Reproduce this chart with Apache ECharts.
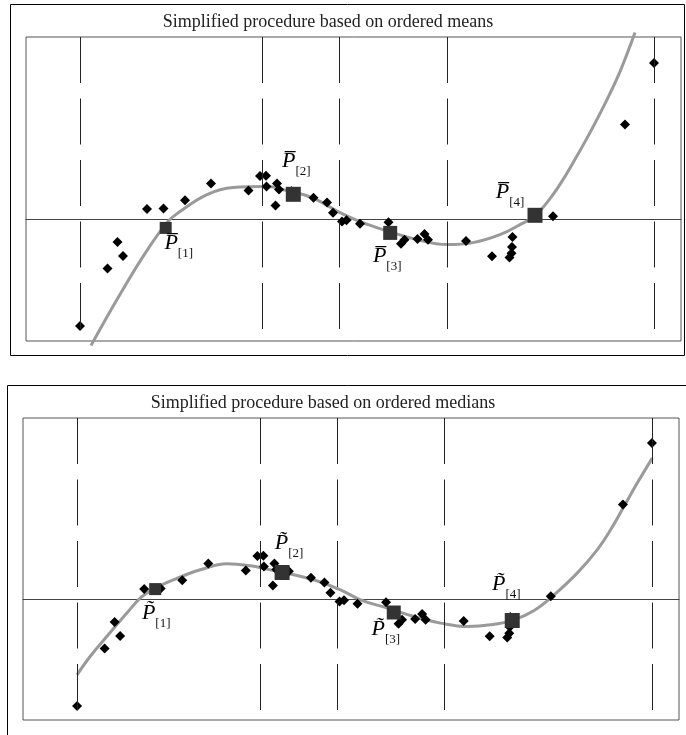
<!DOCTYPE html>
<html>
<head>
<meta charset="utf-8">
<script src="https://cdn.jsdelivr.net/npm/echarts@6/dist/echarts.min.js"></script>
<style>
  html, body { margin: 0; background: #fff; }
  #chart { width: 686px; height: 735px; }
</style>
</head>
<body>
<div id="chart"></div>
<script>
// observed points (same in both panels)
const observations = [
  [5.4, -10.7], [8.15, -4.95], [9.15, -2.3], [9.7, -3.7], [12.1, 1.0],
  [13.75, 1.05], [15.9, 1.87], [18.5, 3.55], [22.25, 2.85], [23.4, 4.3],
  [24.0, 4.33], [24.05, 3.26], [24.95, 1.35], [25.1, 3.55], [25.3, 2.94],
  [26.55, 2.78], [28.75, 2.13], [30.1, 1.65], [30.7, 0.63], [31.6, -0.25],
  [32.05, -0.12], [33.4, -0.47], [36.25, -0.33], [37.5, -2.48], [37.85, -2.07],
  [39.15, -2.0], [39.85, -1.5], [40.2, -2.07], [44.0, -2.2], [46.6, -3.72],
  [48.65, -1.81], [48.6, -2.79], [48.55, -3.42], [48.35, -3.85], [52.7, 0.28],
  [59.9, 9.45], [62.8, 15.6]
];

const orderedMeans = [[13.97, -0.89], [26.73, 2.47], [36.42, -1.39], [50.9, 0.37]];
const orderedMedians = [[13.2, 0.99], [25.87, 2.65], [37.02, -1.35], [48.85, -2.15]];
const rankLabels = ['[1]', '[2]', '[3]', '[4]'];

const meanCurve = [
  [6.5, -12.66], [9.1, -8.06], [11.7, -3.76], [14.1, -0.36], [15.4, 0.74],
  [18.1, 2.44], [20.7, 3.14], [24.1, 3.24], [26.1, 2.84], [28.6, 2.14],
  [31.4, 0.64], [33.4, -0.26], [35.7, -1.06], [39.1, -2.06], [42.1, -2.56],
  [44.7, -2.36], [47.4, -1.56], [49.4, -0.56], [50.9, 0.34], [52.4, 2.04],
  [53.7, 3.94], [55.0, 6.14], [56.4, 8.64], [57.9, 11.54], [59.4, 14.74],
  [60.9, 18.64]
];

const medianCurve = [
  [5.4, -7.58], [6.7, -5.75], [8.37, -3.75], [10.37, -1.41], [11.7, 0.09],
  [13.03, 0.99], [15.03, 1.92], [17.7, 2.92], [20.37, 3.52], [22.7, 3.32],
  [24.37, 2.99], [27.03, 2.42], [29.03, 1.92], [31.7, 0.92], [33.7, -0.08],
  [36.37, -0.91], [39.03, -1.75], [41.7, -2.41], [44.37, -2.75], [46.7, -2.58],
  [49.03, -2.08], [51.03, -1.15], [53.03, 0.42], [55.33, 2.59], [57.33, 4.92],
  [58.67, 6.92], [60.0, 9.25], [61.33, 11.59], [62.83, 14.09]
];

const groupBounds = [5.4, 23.65, 31.35, 42.1, 62.8];

const titles = [
  'Simplified procedure based on ordered means',
  'Simplified procedure based on ordered medians'
];

const serif = '"Liberation Serif", "DejaVu Serif", serif';
const squareSizes = [12, 15, 14, 15];

const panels = [
  { left: 26, top: 37, width: 655, height: 304, yMin: -12.2, yMax: 18.2,
    titleX: 328, titleY: 22, box: [10.5, 4.5, 674, 351],
    centres: orderedMeans, curve: meanCurve, accent: '\u0305',
    offsets: [[13, 18], [3, -30], [-3, 26], [-25, -20]] },
  { left: 23, top: 418, width: 656, height: 302, yMin: -12.1, yMax: 18.1,
    titleX: 323, titleY: 403, box: [7.5, 385.5, 690, 400],
    centres: orderedMedians, curve: medianCurve, accent: '\u0303',
    offsets: [[1, 27], [7, -26], [-8, 20], [-6, -33]] }
];

const grid = panels.map((p) => ({
  left: p.left, top: p.top, width: p.width, height: p.height,
  show: true, borderColor: '#555', borderWidth: 1
}));

const xAxis = panels.map((p, i) => ({
  type: 'value', gridIndex: i, min: 0, max: 65.5,
  axisLine: { show: true, onZero: true, lineStyle: { color: '#444', width: 1 } },
  axisTick: { show: false }, axisLabel: { show: false }, splitLine: { show: false }
}));

const yAxis = panels.map((p, i) => ({
  type: 'value', gridIndex: i, min: p.yMin, max: p.yMax,
  axisLine: { show: false }, axisTick: { show: false },
  axisLabel: { show: false }, splitLine: { show: false }
}));

const series = [];
panels.forEach((p, i) => {
  series.push({
    type: 'line', xAxisIndex: i, yAxisIndex: i, data: p.curve,
    smooth: 0.4, showSymbol: false, clip: false, silent: true, z: 2,
    lineStyle: { color: '#9a9a9a', width: 3 },
    markLine: {
      silent: true, symbol: 'none', label: { show: false },
      lineStyle: { color: '#222', width: 1, type: [46, 15.5] },
      data: groupBounds.map((v) => [{ coord: [v, p.yMax] }, { coord: [v, p.yMin] }])
    }
  });
  series.push({
    type: 'scatter', xAxisIndex: i, yAxisIndex: i, data: observations,
    symbol: 'diamond', symbolSize: 10, itemStyle: { color: '#000', opacity: 1 }, z: 3
  });
  series.push({
    type: 'scatter', xAxisIndex: i, yAxisIndex: i,
    data: p.centres.map((c, k) => ({ value: c, label: { offset: p.offsets[k] } })),
    symbol: 'rect', symbolSize: (v, prm) => squareSizes[prm.dataIndex],
    itemStyle: { color: '#333', opacity: 1 }, z: 4,
    label: {
      show: true, position: 'inside', color: '#000', textBorderWidth: 0,
      formatter: (prm) => '{p|P' + p.accent + '}{s|' + rankLabels[prm.dataIndex] + '}',
      rich: {
        p: { fontFamily: serif, fontStyle: 'italic', fontSize: 22, color: '#000', lineHeight: 28, verticalAlign: 'top' },
        s: { fontFamily: serif, fontSize: 13, color: '#111', lineHeight: 12, verticalAlign: 'bottom' }
      }
    }
  });
});

const graphic = [];
panels.forEach((p, i) => {
  graphic.push({
    type: 'rect', silent: true,
    shape: { x: p.box[0], y: p.box[1], width: p.box[2], height: p.box[3] },
    style: { fill: 'none', stroke: '#000', lineWidth: 1 }
  });
  graphic.push({
    type: 'text', silent: true,
    style: {
      text: titles[i], x: p.titleX, y: p.titleY, fill: '#222',
      font: '18px ' + serif,
      align: 'center', verticalAlign: 'middle',
      textAlign: 'center', textVerticalAlign: 'middle'
    }
  });
});

const chart = echarts.init(document.getElementById('chart'));
chart.setOption({
  backgroundColor: '#fff',
  animation: false,
  grid, xAxis, yAxis, series, graphic
});
</script>
</body>
</html>
